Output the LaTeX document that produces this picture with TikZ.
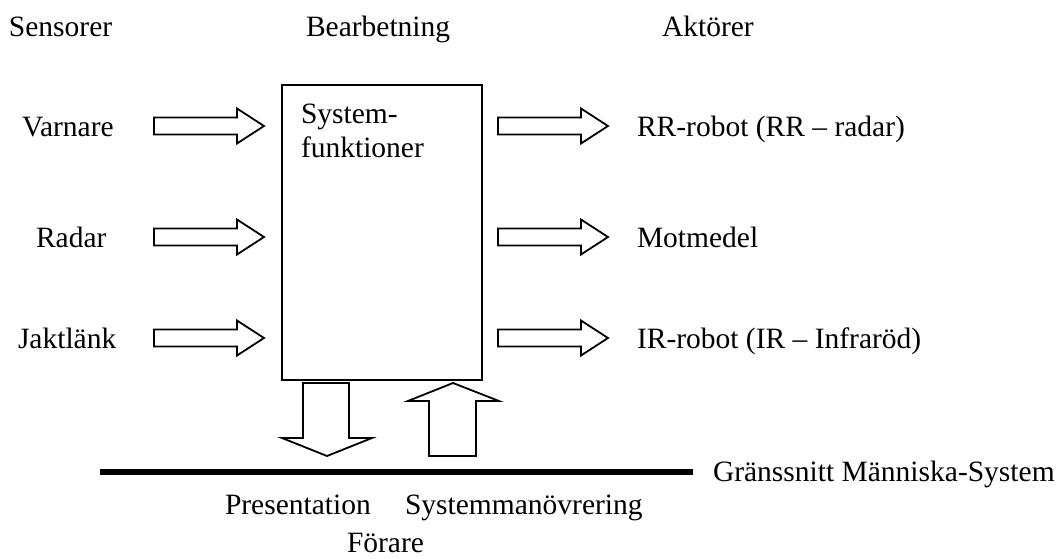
\documentclass[tikz,border=0pt]{standalone}
\usepackage{fontspec}
\setmainfont{Liberation Serif}
\begin{document}
\begin{tikzpicture}[x=1pt,y=-1pt,
  lbl/.style={anchor=base west,inner sep=0pt,outer sep=0pt,font=\fontsize{29.5}{34}\selectfont},
  outl/.style={draw=black,line width=1.8pt,line join=miter,fill=white},
  rarrow/.pic={\draw[outl] (0,-8.5) -- (83,-8.5) -- (83,-17.5) -- (110,0) -- (83,17.5) -- (83,8.5) -- (0,8.5) -- cycle;}
]
\useasboundingbox (0,0) rectangle (1063,558);
% headings
\node[lbl] (hs) at (9,36) {Sensorer};
\node[lbl] (hb) at (306,36) {Bearbetning};
\node[lbl] (ha) at (662,36) {Aktörer};
% sensors
\node[lbl] (s1) at (22,136) {Varnare};
\node[lbl] (s2) at (36,247) {Radar};
\node[lbl] (s3) at (18,348) {Jaktlänk};
% actors
\node[lbl] (a1) at (637,136) {RR-robot (RR – radar)};
\node[lbl] (a2) at (637,247) {Motmedel};
\node[lbl] (a3) at (637,348) {IR-robot (IR – Infraröd)};
% main box
\node[outl,anchor=north west,minimum width=200pt,minimum height=295pt,inner sep=0pt] (sys) at (281,84) {};
\node[lbl] (sysA) at (301,123) {System-};
\node[lbl] (sysB) at (301,157) {funktioner};
% block arrows left
\pic at (154,126) {rarrow};
\pic at (154,237) {rarrow};
\pic at (154,338) {rarrow};
% block arrows right
\pic at (498,126) {rarrow};
\pic at (498,237) {rarrow};
\pic at (498,338) {rarrow};
% down / up arrows
\draw[outl] (303,383) -- (349,383) -- (349,438) -- (372,438) -- (327,456) -- (282,438) -- (303,438) -- cycle;
\draw[outl] (429,456) -- (476,456) -- (476,401) -- (499,401) -- (453,383) -- (408,401) -- (429,401) -- cycle;
% interface line
\coordinate (gl) at (100,472);
\coordinate (gr) at (693,472);
\draw[line width=6pt] (gl) -- (gr);
\node[lbl] (gi) at (713,481) {Gränssnitt Människa-System};
\node[lbl] (pr) at (225,514) {Presentation};
\node[lbl] (sm) at (405,514) {Systemmanövrering};
\node[lbl] (fo) at (347,552) {Förare};
\end{tikzpicture}
\end{document}
